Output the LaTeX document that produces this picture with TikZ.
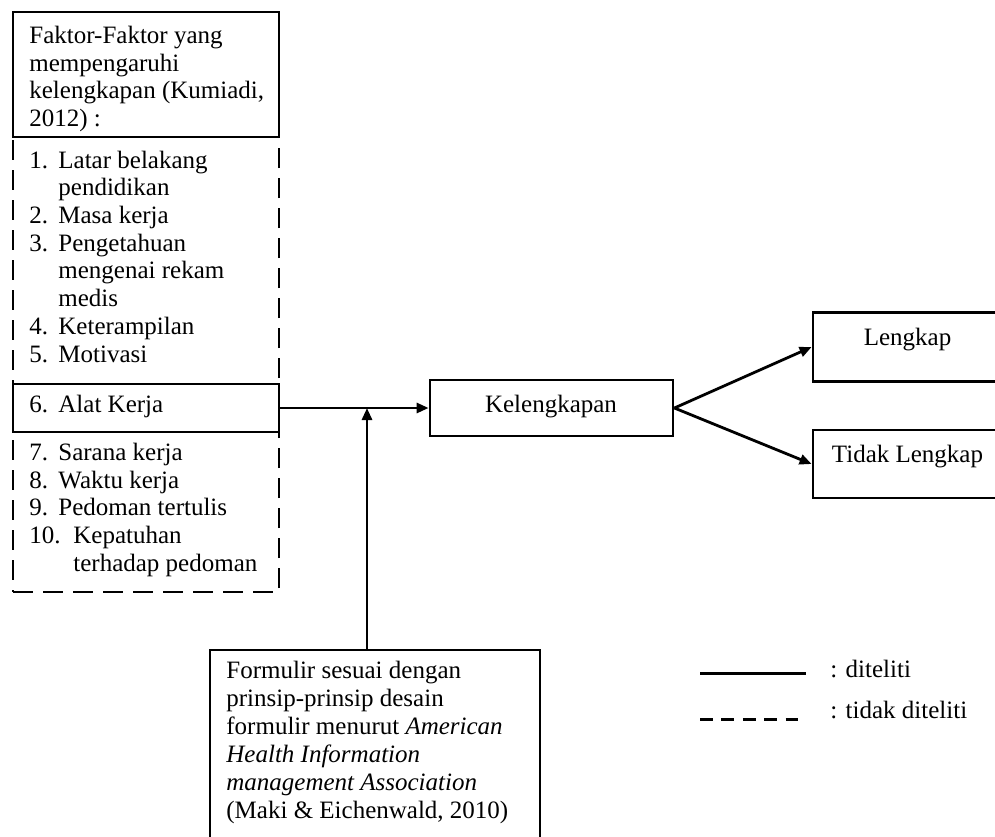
\documentclass[tikz,border=0pt]{standalone}
\usepackage{fontspec}
\setmainfont{Liberation Serif}
\usetikzlibrary{arrows.meta}
\begin{document}
\begin{tikzpicture}[x=0.5pt,y=-0.5pt,
  boxline/.style={draw,line width=1.4pt,inner sep=0pt,rectangle},
  dashbox/.style={boxline,dash pattern=on 10pt off 5pt},
  txt/.style={inner sep=0pt,anchor=base west,font=\fontsize{12.5}{14}\selectfont},
  ctxt/.style={txt,anchor=base},
  arr/.style={line width=1.4pt,-{Triangle[length=6pt,width=5pt]}},
  legsolid/.style={line width=1.5pt},
  legdash/.style={line width=1.5pt,dash pattern=on 6.5pt off 4.2pt}]
\useasboundingbox (0,0) rectangle (995,836);
\clip (0,0) rectangle (995,836);

% boxes
\node[dashbox,minimum width=133pt,minimum height=227.5pt] (listbox) at (146,364.5) {};
\node[boxline,fill=white,minimum width=133pt,minimum height=62.5pt] (topbox) at (146,74.5) {};
\node[boxline,fill=white,minimum width=133pt,minimum height=24pt] (alat) at (146,408) {};
\node[boxline,minimum width=121.5pt,minimum height=28pt] (kel) at (551.5,408) {};
\node[boxline,minimum width=143.5pt,minimum height=34.5pt] (lengkap) at (956.5,347) {};
\node[boxline,minimum width=143.5pt,minimum height=34pt] (tidak) at (956.5,464) {};
\node[boxline,minimum width=165pt,minimum height=125pt] (formulir) at (375,775) {};

% texts in top box
\node[txt] (t1) at (29,43) {Faktor-Faktor yang};
\node[txt] (t2) at (29,71) {mempengaruhi};
\node[txt] (t3) at (29,98) {kelengkapan (Kumiadi,};
\node[txt] (t4) at (29,126) {2012) :};

% list
\node[txt] (n1) at (29,168) {1.};
\node[txt] (l1a) at (58,168) {Latar belakang};
\node[txt] (l1b) at (58,195.7) {pendidikan};
\node[txt] (n2) at (29,223.4) {2.};
\node[txt] (l2) at (58,223.4) {Masa kerja};
\node[txt] (n3) at (29,251) {3.};
\node[txt] (l3a) at (58,251) {Pengetahuan};
\node[txt] (l3b) at (58,278.8) {mengenai rekam};
\node[txt] (l3c) at (58,306.5) {medis};
\node[txt] (n4) at (29,334.2) {4.};
\node[txt] (l4) at (58,334.2) {Keterampilan};
\node[txt] (n5) at (29,362) {5.};
\node[txt] (l5) at (58,362) {Motivasi};
\node[txt] (n6) at (29,412) {6.};
\node[txt] (l6) at (58,412) {Alat Kerja};
\node[txt] (n7) at (29,460) {7.};
\node[txt] (l7) at (58,460) {Sarana kerja};
\node[txt] (n8) at (29,488) {8.};
\node[txt] (l8) at (58,488) {Waktu kerja};
\node[txt] (n9) at (29,515) {9.};
\node[txt] (l9) at (58,515) {Pedoman tertulis};
\node[txt] (n10) at (29,543) {10.};
\node[txt] (l10a) at (73,543) {Kepatuhan};
\node[txt] (l10b) at (73,571) {terhadap pedoman};

% right texts
\node[ctxt] (tk) at (551,412) {Kelengkapan};
\node[ctxt] (tl) at (907.5,345) {Lengkap};
\node[ctxt] (ttl) at (907.5,462) {Tidak Lengkap};

% formulir text
\node[txt] (f1) at (226,678) {Formulir sesuai dengan};
\node[txt] (f2) at (226,706) {prinsip-prinsip desain};
\node[txt] (f3) at (226,734) {formulir menurut \textit{American}};
\node[txt] (f4) at (226,762) {\textit{Health Information}};
\node[txt] (f5) at (226,790) {\textit{management Association}};
\node[txt] (f6) at (226,818) {(Maki \& Eichenwald, 2010)};

% connectors
\coordinate (j) at (367,408);
\draw[arr] (alat.east) -- (kel.west);
\draw[arr] (j |- formulir.north) -- (j);
\draw[arr] (kel.east) -- (lengkap.west);
\draw[arr] (kel.east) -- (tidak.west);

% legend
\coordinate (ls1) at (700,673);
\coordinate (ls2) at (806,673);
\coordinate (ld1) at (700,719);
\coordinate (ld2) at (798,719);
\draw[legsolid] (ls1) -- (ls2);
\draw[legdash] (ld1) -- (ld2);
\node[txt] (lg1) at (830,677) {: diteliti};
\node[txt] (lg2) at (830,718) {: tidak diteliti};
\end{tikzpicture}
\end{document}
